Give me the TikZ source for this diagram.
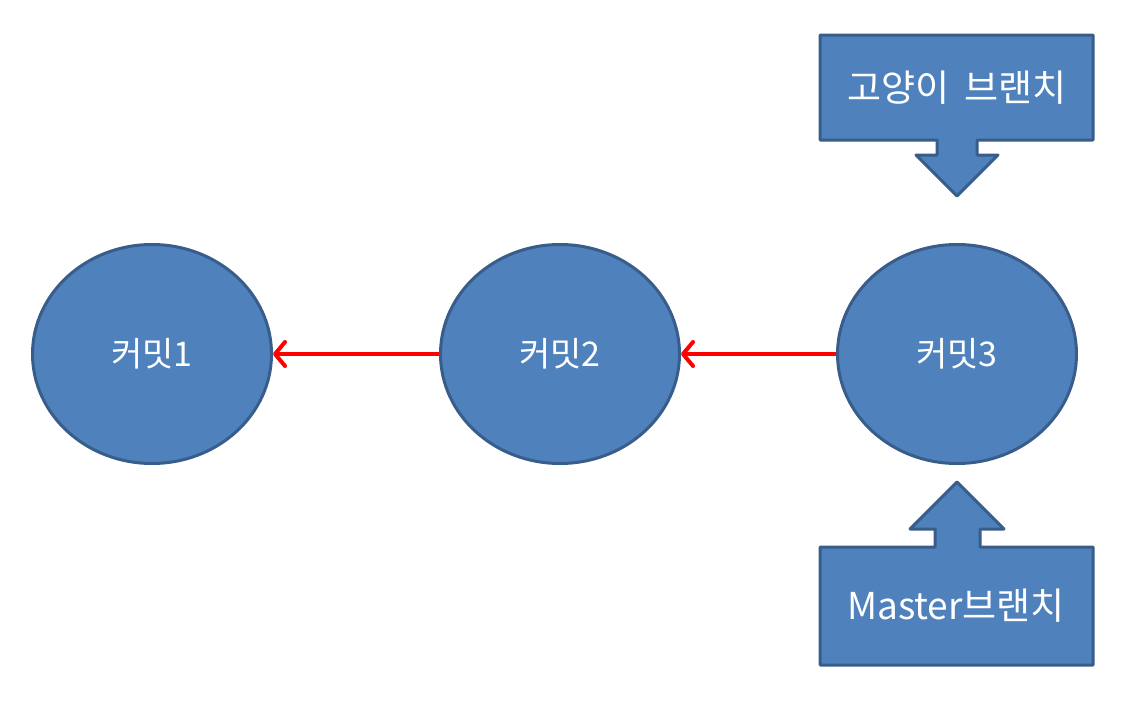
\documentclass[tikz,border=0pt]{standalone}
\usepackage{fontspec}
\setmainfont{Noto Sans CJK KR}
\usetikzlibrary{arrows.meta,shapes.geometric}
\definecolor{fillblue}{HTML}{4F81BD}
\definecolor{edgeblue}{HTML}{385D8A}
\tikzset{
  commit/.style={ellipse, draw=edgeblue, fill=fillblue, line width=3pt, minimum width=239pt, minimum height=219pt, text=white, font=\fontsize{34}{38}\selectfont, inner sep=0pt},
  callout/.style={draw=edgeblue, fill=fillblue, line width=3pt, line join=round},
  label/.style={text=white, font=\fontsize{37}{42}\selectfont},
  link/.style={draw=red, line width=4pt, -{Straight Barb[length=10pt,width=24pt,line cap=round,round]}}
}
\begin{document}
\begin{tikzpicture}[x=1pt,y=-1pt]
\useasboundingbox (0,0) rectangle (1130,704);
\node[commit] (c1) at (152,354) {커밋1};
\node[commit] (c2) at (560,354) {커밋2};
\node[commit] (c3) at (957,354) {커밋3};
\draw[link] (c2.west) -- (c1.east);
\draw[link] (c3.west) -- (c2.east);
% top callout
\draw[callout] (820,35) -- (1093,35) -- (1093,140) -- (977,140) -- (977,155) -- (998,155) -- (957,196) -- (916,155) -- (937,155) -- (937,140) -- (820,140) -- cycle;
\node[label] (t1) at (957,88) {고양이\hspace{0.2em} 브랜치};
% bottom callout
\draw[callout] (820,547) -- (935,547) -- (935,529) -- (910,529) -- (957,482) -- (1004,529) -- (980,529) -- (980,547) -- (1093,547) -- (1093,665) -- (820,665) -- cycle;
\node[label] (t2) at (956,606) {Master브랜치};
\end{tikzpicture}
\end{document}
